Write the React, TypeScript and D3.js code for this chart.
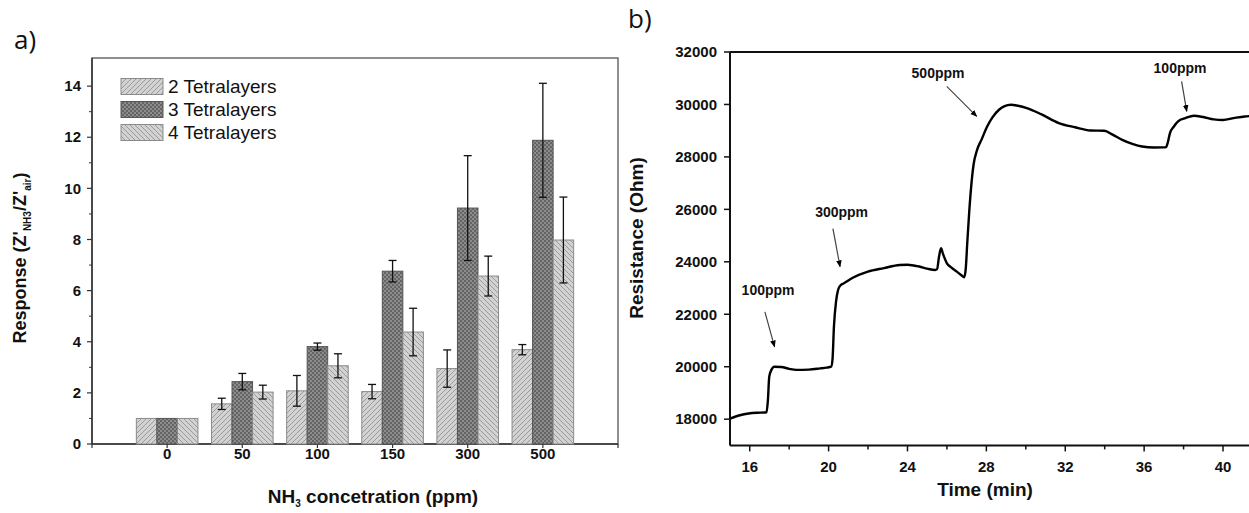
import React from "react";
import * as d3 from "d3";

// ---------- Panel a data ----------
const categories = ["0", "50", "100", "150", "300", "500"];
const seriesNames = ["2 Tetralayers", "3 Tetralayers", "4 Tetralayers"];
const values2 = [1, 1.57, 2.08, 2.05, 2.95, 3.69];
const err2 = [0, 0.22, 0.6, 0.28, 0.73, 0.2];
const values3 = [1, 2.44, 3.81, 6.76, 9.23, 11.88];
const err3 = [0, 0.32, 0.14, 0.42, 2.05, 2.23];
const values4 = [1, 2.03, 3.06, 4.38, 6.57, 7.98];
const err4 = [0, 0.27, 0.47, 0.93, 0.78, 1.68];
const yTicksA = [0, 2, 4, 6, 8, 10, 12, 14];

// ---------- Panel b data ----------
const timeMin = [15.0, 15.5, 15.94, 16.4, 16.75, 16.85, 16.92, 16.99, 17.1, 17.25, 17.6, 18.0, 18.36, 19.0, 19.57, 19.9, 20.13, 20.2, 20.27, 20.38, 20.48, 20.6, 20.78, 21.2, 21.99, 22.8, 23.6, 24.0, 24.6, 25.0, 25.4, 25.5, 25.6, 25.7, 25.8, 26.0, 26.2, 26.5, 26.75, 26.87, 26.95, 27.03, 27.13, 27.23, 27.35, 27.53, 27.75, 28.04, 28.3, 28.64, 28.9, 29.25, 29.6, 30.05, 30.8, 31.67, 32.5, 33.28, 33.98, 34.4, 34.89, 35.4, 35.9, 36.5, 37.0, 37.11, 37.2, 37.31, 37.5, 37.72, 38.1, 38.52, 39.0, 39.53, 40.0, 40.54, 41.1, 41.5];
const resistance = [18025, 18150, 18216, 18245, 18255, 18262, 18700, 19616, 19880, 20000, 19990, 19920, 19880, 19890, 19935, 19965, 20000, 20300, 21525, 22500, 22925, 23100, 23180, 23380, 23625, 23760, 23880, 23890, 23820, 23740, 23690, 23720, 24200, 24516, 24300, 23943, 23800, 23625, 23480, 23409, 23700, 24707, 25900, 26870, 27700, 28271, 28650, 29162, 29500, 29798, 29930, 29989, 29950, 29862, 29620, 29290, 29130, 29009, 28996, 28850, 28652, 28500, 28398, 28360, 28365, 28372, 28550, 28907, 29150, 29353, 29480, 29570, 29520, 29430, 29410, 29480, 29543, 29560];
const xTicksB = [16, 20, 24, 28, 32, 36, 40];
const xMinorB = [18, 22, 26, 30, 34, 38];
const yTicksB = [18000, 20000, 22000, 24000, 26000, 28000, 30000, 32000];
const annoLabels = ["100ppm", "300ppm", "500ppm", "100ppm"];
const annoTextT = [16.93, 20.66, 25.55, 37.82];
const annoTextR = [22930, 25912, 31214, 31405];
const arrowFromT = [16.77, 20.22, 25.99, 37.9];
const arrowFromR = [22092, 25263, 30691, 30882];
const arrowToT = [17.26, 20.58, 27.51, 38.16];
const arrowToR = [20756, 23813, 29546, 29736];

const FONT = "Liberation Sans, Arial, Helvetica, sans-serif";

export default function App() {
  // Panel a scales
  const xA = d3.scaleLinear().domain([0, 7]).range([92, 618]);
  const yA = d3.scaleLinear().domain([0, 15.1]).range([444, 58]);
  const inner = d3.scaleBand().domain(seriesNames).range([-30.8, 30.8]).padding(0);
  const allVals = [values2, values3, values4];
  const allErr = [err2, err3, err4];
  const fills = ["url(#hatch2)", "url(#dots3)", "url(#hatch4)"];
  const strokes = ["#8a8a8a", "#555", "#8a8a8a"];

  // Panel b scales
  const xB = d3.scaleLinear().domain([15, 41.5]).range([730, 1252.6]);
  const yB = d3.scaleLinear().domain([17000, 32000]).range([445.4, 52]);
  const lineGen = d3
    .line<number>()
    .x((_, i) => xB(timeMin[i]))
    .y((d) => yB(d))
    .curve(d3.curveMonotoneX);
  const linePath = lineGen(resistance) || "";

  const minorA = d3.range(1, 15, 2);

  return (
    <svg
      width={1249}
      height={513}
      style={{ position: "absolute", left: 0, top: 0, background: "#fff", fontFamily: FONT }}
    >
      <defs>
        <pattern id="hatch2" patternUnits="userSpaceOnUse" width={5} height={5}>
          <rect width={5} height={5} fill="#d2d2d2" />
          <path d="M-1,1 L1,-1 M0,5 L5,0 M4,6 L6,4" stroke="#9a9a9a" strokeWidth={1} />
        </pattern>
        <pattern id="hatch4" patternUnits="userSpaceOnUse" width={5} height={5}>
          <rect width={5} height={5} fill="#d2d2d2" />
          <path d="M-1,4 L1,6 M0,0 L5,5 M4,-1 L6,1" stroke="#9a9a9a" strokeWidth={1} />
        </pattern>
        <pattern id="dots3" patternUnits="userSpaceOnUse" width={4} height={4}>
          <rect width={4} height={4} fill="#8c8c8c" />
          <rect x={0} y={0} width={2} height={2} fill="#646464" />
          <rect x={2} y={2} width={2} height={2} fill="#646464" />
        </pattern>
        <marker id="ahead" viewBox="0 0 10 10" refX={9} refY={5} markerWidth={7} markerHeight={7} orient="auto" markerUnits="userSpaceOnUse">
          <path d="M0,1 L10,5 L0,9 Z" fill="#000" />
        </marker>
      </defs>

      {/* ================= Panel a ================= */}
      <text x={14} y={49} fontSize={26} style={{ fontFamily: "Open Sans, DejaVu Sans, sans-serif" }} fill="#111">a)</text>

      {/* frame */}
      <rect x={xA(0)} y={yA(15.1)} width={xA(7) - xA(0)} height={yA(0) - yA(15.1)} fill="none" stroke="#6a6a6a" strokeWidth={1.5} />
      <line x1={xA(0)} x2={xA(0)} y1={yA(15.1)} y2={yA(0)} stroke="#333" strokeWidth={1.5} />
      <line x1={xA(0)} x2={xA(7)} y1={yA(0)} y2={yA(0)} stroke="#333" strokeWidth={1.5} />

      {/* y ticks */}
      {yTicksA.map((t) => (
        <g key={"ya" + t}>
          <line x1={xA(0) - 5} x2={xA(0)} y1={yA(t)} y2={yA(t)} stroke="#333" strokeWidth={1.2} />
          <text x={xA(0) - 11} y={yA(t)} dy="0.35em" textAnchor="end" fontSize={15} fontWeight="bold" fill="#111">{t}</text>
        </g>
      ))}
      {minorA.map((t) => (
        <line key={"yam" + t} x1={xA(0) - 3} x2={xA(0)} y1={yA(t)} y2={yA(t)} stroke="#333" strokeWidth={1} />
      ))}
      {/* x ticks */}
      {d3.range(0, 8).map((i) => (
        <line key={"xat" + i} x1={xA(i)} x2={xA(i)} y1={yA(0)} y2={yA(0) + 4} stroke="#333" strokeWidth={1.2} />
      ))}
      {categories.map((c, i) => (
        <text key={"xal" + c} x={xA(i + 1)} y={yA(0) + 15} textAnchor="middle" fontSize={15} fontWeight="bold" fill="#111">{c}</text>
      ))}

      {/* bars */}
      {allVals.map((vals, s) =>
        vals.map((v, i) => {
          const x0 = xA(i + 1) + (inner(seriesNames[s]) as number);
          const w = inner.bandwidth();
          return (
            <rect key={"bar" + s + "-" + i} x={x0} y={yA(v)} width={w} height={yA(0) - yA(v)} fill={fills[s]} stroke={strokes[s]} strokeWidth={1} />
          );
        })
      )}
      {/* error bars */}
      {allVals.map((vals, s) =>
        vals.map((v, i) => {
          const e = allErr[s][i];
          if (!e) return null;
          const cx = xA(i + 1) + (inner(seriesNames[s]) as number) + inner.bandwidth() / 2;
          return (
            <g key={"err" + s + "-" + i} stroke="#111" strokeWidth={1.3}>
              <line x1={cx} x2={cx} y1={yA(v - e)} y2={yA(v + e)} />
              <line x1={cx - 4} x2={cx + 4} y1={yA(v - e)} y2={yA(v - e)} />
              <line x1={cx - 4} x2={cx + 4} y1={yA(v + e)} y2={yA(v + e)} />
            </g>
          );
        })
      )}

      {/* legend */}
      {seriesNames.map((n, s) => (
        <g key={"leg" + s}>
          <rect x={121} y={78.5 + s * 23} width={42} height={16} fill={fills[s]} stroke={strokes[s]} strokeWidth={1} />
          <text x={168} y={86.5 + s * 23} dy="0.36em" fontSize={19} fill="#111">{n}</text>
        </g>
      ))}

      {/* axis titles */}
      <text transform="translate(26,258) rotate(-90)" textAnchor="middle" fontSize={18} fontWeight="bold" fill="#111">
        Response (Z'<tspan fontSize={10} dy={5}>NH3</tspan><tspan dy={-5}>/Z'</tspan><tspan fontSize={10} dy={5}>air</tspan><tspan dy={-5}>)</tspan>
      </text>
      <text x={373} y={503} textAnchor="middle" fontSize={19} fontWeight="bold" fill="#111">
        NH<tspan fontSize={10} dy={4}>3</tspan><tspan dy={-4}> concetration (ppm)</tspan>
      </text>

      {/* ================= Panel b ================= */}
      <text x={628} y={28} fontSize={26} style={{ fontFamily: "Open Sans, DejaVu Sans, sans-serif" }} fill="#111">b)</text>

      <line x1={xB(15)} x2={1249} y1={yB(32000)} y2={yB(32000)} stroke="#111" strokeWidth={2} />
      <line x1={xB(15)} x2={1249} y1={yB(17000)} y2={yB(17000)} stroke="#111" strokeWidth={2} />
      <line x1={xB(15)} x2={xB(15)} y1={yB(32000)} y2={yB(17000)} stroke="#111" strokeWidth={2} />

      {yTicksB.map((t) => (
        <g key={"yb" + t}>
          <line x1={xB(15) - 6} x2={xB(15)} y1={yB(t)} y2={yB(t)} stroke="#111" strokeWidth={1.5} />
          <text x={xB(15) - 13} y={yB(t)} dy="0.35em" textAnchor="end" fontSize={15} fontWeight="bold" fill="#111">{t}</text>
        </g>
      ))}
      {xTicksB.map((t) => (
        <g key={"xb" + t}>
          <line x1={xB(t)} x2={xB(t)} y1={yB(17000)} y2={yB(17000) + 6} stroke="#111" strokeWidth={1.5} />
          <text x={xB(t)} y={yB(17000) + 27} textAnchor="middle" fontSize={15} fontWeight="bold" fill="#111">{t}</text>
        </g>
      ))}
      {xMinorB.map((t) => (
        <line key={"xbm" + t} x1={xB(t)} x2={xB(t)} y1={yB(17000)} y2={yB(17000) + 4} stroke="#111" strokeWidth={1.5} />
      ))}

      <path d={linePath} fill="none" stroke="#000" strokeWidth={2.4} strokeLinejoin="round" />

      {annoLabels.map((l, i) => (
        <g key={"anno" + i}>
          <text x={xB(annoTextT[i])} y={yB(annoTextR[i])} dy="0.35em" textAnchor="middle" fontSize={14} fontWeight="bold" fill="#111">{l}</text>
          <line x1={xB(arrowFromT[i])} y1={yB(arrowFromR[i])} x2={xB(arrowToT[i])} y2={yB(arrowToR[i])} stroke="#444" strokeWidth={1.2} markerEnd="url(#ahead)" />
        </g>
      ))}

      <text transform="translate(643,238) rotate(-90)" textAnchor="middle" fontSize={19} fontWeight="bold" fill="#111">Resistance (Ohm)</text>
      <text x={985} y={496} textAnchor="middle" fontSize={19} fontWeight="bold" fill="#111">Time (min)</text>
    </svg>
  );
}
